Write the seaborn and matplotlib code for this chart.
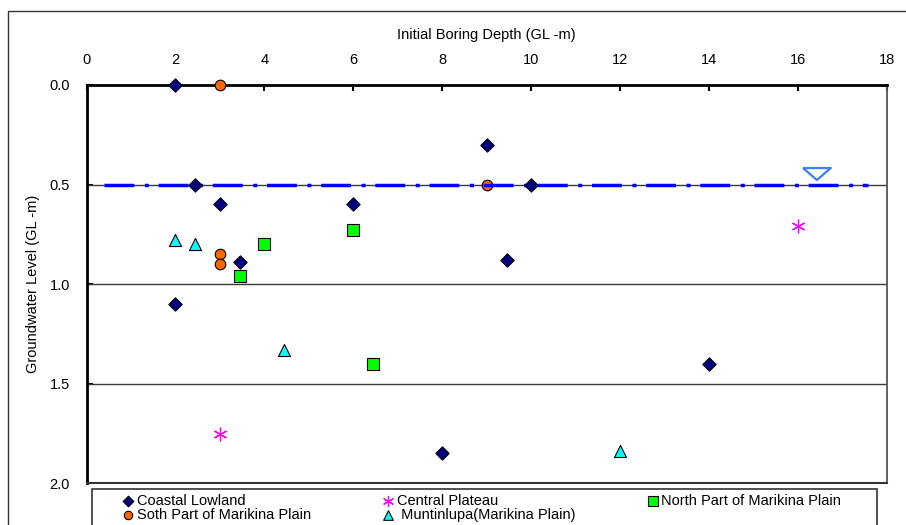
import pandas as pd
import numpy as np
import matplotlib
matplotlib.use("Agg")
import matplotlib.pyplot as plt
import seaborn as sns
from matplotlib.patches import Rectangle

# Groundwater level vs initial boring depth, by area
coastal_x = [2.0, 2.45, 3.0, 3.45, 2.0, 6.0, 9.0, 10.0, 9.45, 14.0, 8.0]
coastal_y = [0.0, 0.5, 0.6, 0.89, 1.10, 0.6, 0.3, 0.5, 0.88, 1.40, 1.85]

central_x = [3.0, 16.0]
central_y = [1.75, 0.71]

north_x = [4.0, 3.45, 6.0, 6.45]
north_y = [0.80, 0.96, 0.73, 1.40]

south_x = [3.0, 3.0, 3.0, 9.0]
south_y = [0.0, 0.85, 0.90, 0.5]

munt_x = [2.0, 2.45, 4.45, 12.0]
munt_y = [0.78, 0.80, 1.33, 1.84]

# reference water level line and its symbol
water_level = 0.5
water_x = [0.39, 17.58]
symbol_x = 16.43
symbol_y = 0.447

x_ticks = [0, 2, 4, 6, 8, 10, 12, 14, 16, 18]
y_ticks = [0.0, 0.5, 1.0, 1.5, 2.0]

groups = {
    'Coastal Lowland': (coastal_x, coastal_y),
    'Soth Part of Marikina Plain': (south_x, south_y),
    'Central Plateau': (central_x, central_y),
    ' Muntinlupa(Marikina Plain)': (munt_x, munt_y),
    'North Part of Marikina Plain': (north_x, north_y),
}
styles = {
    'Coastal Lowland': dict(marker='D', color='#000080', s=46, edgecolor='black', linewidth=0.8, zorder=6),
    'Soth Part of Marikina Plain': dict(marker='o', color='#FF6600', s=58, edgecolor='black', linewidth=0.8, zorder=3),
    'Central Plateau': dict(marker=(6, 2, 0), color='#FF00FF', s=85, linewidth=0.9, zorder=5),
    ' Muntinlupa(Marikina Plain)': dict(marker='^', color='#00FFFF', s=75, edgecolor='black', linewidth=0.8, zorder=5),
    'North Part of Marikina Plain': dict(marker='s', color='#00FF00', s=68, edgecolor='black', linewidth=0.8, zorder=5),
}

sns.set_theme(style='white')
plt.rcParams['font.family'] = ['Liberation Sans', 'DejaVu Sans']
plt.rcParams['lines.scale_dashes'] = False

W, H = 906, 525
fig = plt.figure(figsize=(W / 100, H / 100), dpi=100)
ax_l, ax_r, ax_t, ax_b = 86.5, 886.7, 85.0, 483.3
ax = fig.add_axes([ax_l / W, 1 - ax_b / H, (ax_r - ax_l) / W, (ax_b - ax_t) / H])

# grid lines
for yv in [0.5, 1.0, 1.5]:
    ax.axhline(yv, color='#3a3a3a', lw=1.0, zorder=1)

# water level dash-dot line
ax.plot(water_x, [water_level, water_level], color='#0000FF', lw=2.5,
        dashes=(21.5, 7.6, 2.9, 7.0), dash_capstyle='butt', zorder=4)

for name, (xs, ys) in groups.items():
    df = pd.DataFrame({'x': xs, 'y': ys})
    st = dict(styles[name])
    z = st.pop('zorder')
    sns.scatterplot(data=df, x='x', y='y', ax=ax, label=name, clip_on=False, zorder=z, **st)

# water level symbol (open inverted triangle)
tri = [(-1, 0.43), (1, 0.43), (0, -0.43), (-1, 0.43)]
ax.scatter([symbol_x], [symbol_y], marker=tri, s=400, facecolor='none',
           edgecolor='#3F7FFF', linewidth=1.6, zorder=6, clip_on=False)

ax.set_xlim(0, 18)
ax.set_ylim(2.0, 0.0)
ax.set_xticks(x_ticks)
ax.set_yticks(y_ticks)
ax.set_yticklabels([f'{v:.1f}' for v in y_ticks])
ax.xaxis.set_ticks_position('top')
ax.xaxis.set_label_position('top')
ax.tick_params(axis='x', direction='in', length=4, width=1.5, pad=13,
               labelsize=10.5, colors='black', top=True, bottom=False)
ax.tick_params(axis='y', direction='in', length=4, width=1.5, pad=12,
               labelsize=10.5, colors='black', left=True)
ax.set_xlabel('Initial Boring Depth (GL -m)', fontsize=10.5, labelpad=10, color='black')
ax.set_ylabel('Groundwater Level (GL -m)', fontsize=10.5, labelpad=7, color='black')

for side in ['top', 'left']:
    ax.spines[side].set_color('black')
    ax.spines[side].set_linewidth(2.0)
ax.spines['bottom'].set_color('#333333')
ax.spines['bottom'].set_linewidth(1.5)
ax.spines['right'].set_color('#555555')
ax.spines['right'].set_linewidth(1.3)
ax.grid(False)

# legend (frameless) plus box drawn around it
handles, labels = ax.get_legend_handles_labels()
leg = ax.legend(handles, labels, ncol=3, loc='upper left', frameon=False,
                bbox_to_anchor=(122.0 / W, 1 - 494.0 / H), bbox_transform=fig.transFigure,
                borderpad=0, borderaxespad=0, handlelength=0.8, handletextpad=0.2,
                columnspacing=4.9, labelspacing=0.0, fontsize=10.5, markerscale=0.8)
for t in leg.get_texts():
    t.set_color('black')

fig.patches.append(Rectangle((92.3 / W, -0.05), (877.3 - 92.3) / W, (1 - 489.0 / H) + 0.05,
                             transform=fig.transFigure, fill=False, edgecolor='#333333', lw=1.2))
# outer chart frame
fig.patches.append(Rectangle((8.3 / W, -0.05), 1.2, (1 - 10.7 / H) + 0.05,
                             transform=fig.transFigure, fill=False, edgecolor='#333333', lw=1.0))

plt.savefig('out.png', dpi=100)
